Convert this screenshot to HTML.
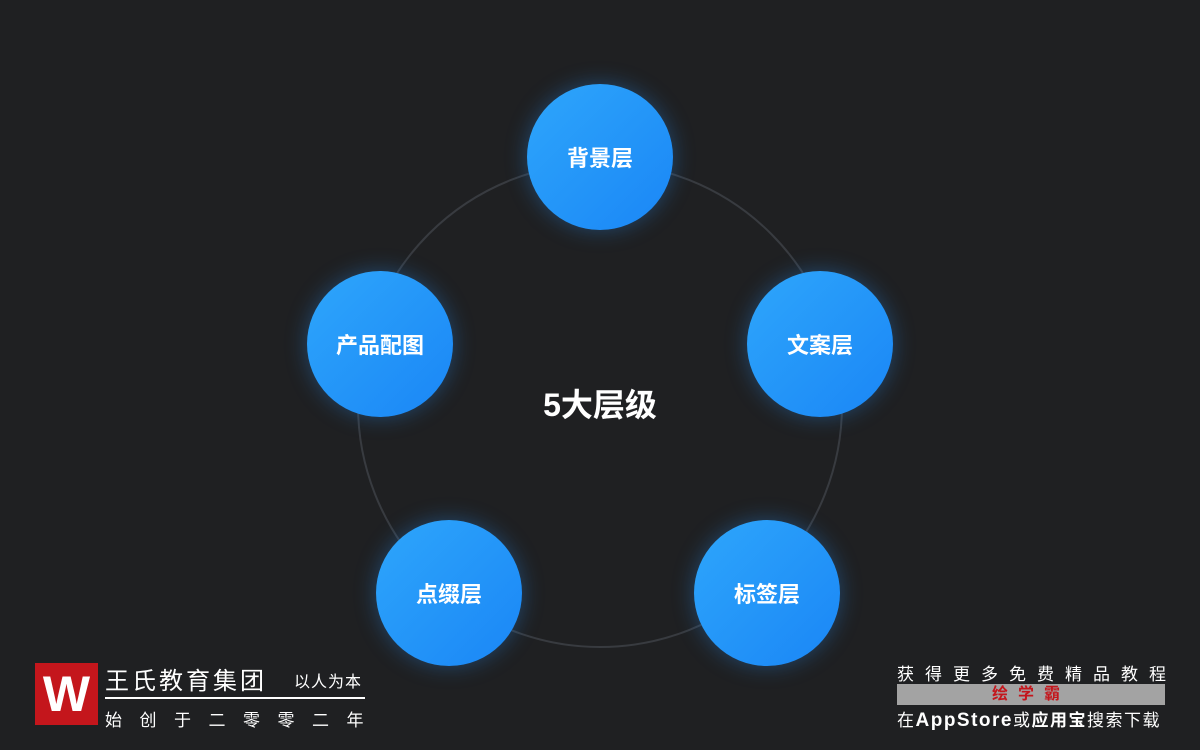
<!DOCTYPE html>
<html><head><meta charset="utf-8"><style>
body{margin:0;width:1200px;height:750px;background:#1f2022;overflow:hidden;position:relative;font-family:"Liberation Sans","Noto Sans CJK SC",sans-serif;}
.ring{position:absolute;left:357px;top:162px;width:486px;height:486px;border-radius:50%;border:2px solid #383b40;box-sizing:border-box;}
.c{position:absolute;width:146px;height:146px;border-radius:50%;background:linear-gradient(135deg,#2ea6fb 0%,#1a86f6 100%);box-shadow:0 0 22px rgba(40,150,255,0.35);color:#fff;font-size:22px;font-weight:bold;display:flex;align-items:center;justify-content:center;}
.t{position:absolute;color:#fff;font-weight:bold;font-size:32px;left:500px;width:200px;text-align:center;top:380px;}
</style></head><body>
<div class="ring"></div>
<div class="c" style="left:527px;top:84px">背景层</div>
<div class="c" style="left:747px;top:271px">文案层</div>
<div class="c" style="left:694px;top:520px">标签层</div>
<div class="c" style="left:376px;top:520px">点缀层</div>
<div class="c" style="left:307px;top:271px">产品配图</div>
<div class="t">5大层级</div>

<div style="position:absolute;left:35px;top:663px;width:63px;height:62px;background:#c4161c;color:#fff;font-size:50px;font-weight:bold;text-align:center;line-height:62px;">W</div>
<div style="position:absolute;left:105px;top:661px;color:#fff;font-size:24px;letter-spacing:3px;">王氏教育集团</div>
<div style="position:absolute;left:294px;top:668px;color:#fff;font-size:16px;letter-spacing:1px;">以人为本</div>
<div style="position:absolute;left:105px;top:697px;width:260px;height:2px;background:#fff;"></div>
<div style="position:absolute;left:105px;top:706px;color:#fff;font-size:17px;letter-spacing:17.5px;white-space:nowrap;">始创于二零零二年</div>

<div style="position:absolute;left:897px;top:660px;color:#fff;font-size:17px;letter-spacing:11px;white-space:nowrap;">获得更多免费精品教程</div>
<div style="position:absolute;left:897px;top:684px;width:268px;height:21px;background:#a3a3a3;color:#c4161c;font-size:16px;font-weight:bold;text-align:center;line-height:21px;letter-spacing:10px;">绘学霸</div>
<div style="position:absolute;left:897px;top:706px;color:#fff;font-size:17px;white-space:nowrap;letter-spacing:1.5px;">在<b style="font-size:19px">AppStore</b>或<b>应用宝</b>搜索下载</div>
</body></html>
